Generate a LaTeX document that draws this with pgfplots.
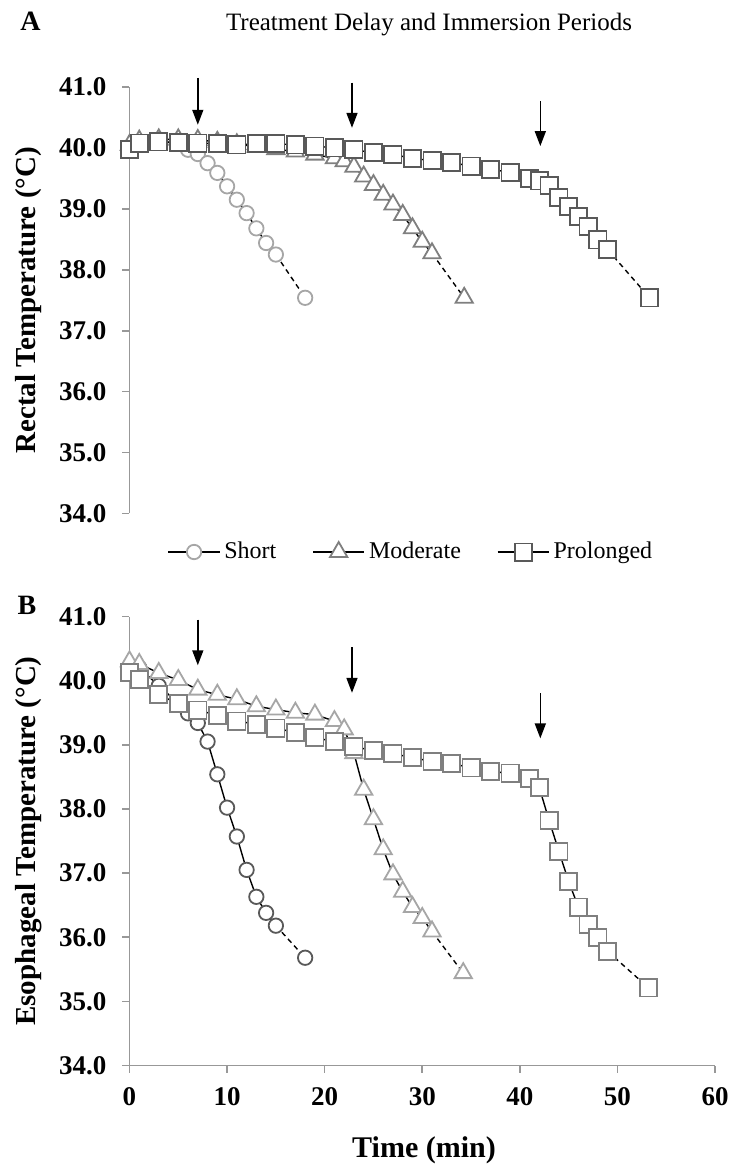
\documentclass[border=0pt]{standalone}
\usepackage{fontspec}
\setmainfont{Liberation Serif}
\usepackage{pgfplots}
\pgfplotsset{compat=1.18}
\usetikzlibrary{arrows.meta}

\definecolor{lgray}{HTML}{A6A6A6}
\definecolor{mgray}{HTML}{7F7F7F}
\definecolor{dgray}{HTML}{595959}
\definecolor{axgray}{HTML}{989898}

\tikzset{arr/.style={-{Triangle[length=7.5pt,width=5.5pt]}, line width=0.8pt, black}}

\pgfplotsset{
  panel/.style={
    scale only axis, width=292.75pt,
    xmin=0, xmax=60, ymin=34, ymax=41,
    ytick={34,35,...,41}, xtick={0,10,...,60},
    axis y line*=left,
    axis line style={axgray, line width=0.8pt, -},
    tick style={axgray, line width=0.8pt},
    tick align=outside, major tick length=3.5pt,
    clip=false,
    /pgf/number format/assume math mode=true,
    ticklabel style={font=\fontsize{13.5}{15}\selectfont\bfseries},
    yticklabel style={xshift=-4.5pt, /pgf/number format/fixed, /pgf/number format/fixed zerofill, /pgf/number format/precision=1},
    xticklabel style={yshift=-4pt},
    every axis y label/.style={at={(axis description cs:-0.173,0.5)}, rotate=90, anchor=center, font=\fontsize{14.5}{17}\selectfont\bfseries},
    every axis x label/.style={at={(axis description cs:0.503,-0.188)}, anchor=center, font=\fontsize{15}{17}\selectfont\bfseries},
    legend image code/.code={\draw[mark repeat=2,mark phase=2,#1] plot coordinates {(0cm,0cm)(0.45cm,0cm)(0.9cm,0cm)};},
  },
  sline/.style={black, line width=0.7pt, solid},
  circ/.style={sline, mark=*, mark size=3.6pt, mark options={solid, draw=#1, fill=white, line width=0.9pt}},
  tri/.style={sline, mark=triangle*, mark size=5pt, mark options={solid, draw=#1, fill=white, line width=0.9pt}},
  sq/.style={sline, mark=square*, mark size=4.3pt, mark options={solid, draw=#1, fill=white, line width=0.9pt}},
  tail/.style={black, line width=0.7pt, dash pattern=on 2.5pt off 2pt, no marks, forget plot},
}

\begin{document}
\begin{tikzpicture}
\path[use as bounding box] (-64.75pt,-50.75pt) rectangle (300.25pt,532.75pt);

% A: rectal temperature
\begin{axis}[panel, height=213.25pt, at={(0,276pt)}, anchor=south west,
  axis x line=none,
  ylabel={Rectal Temperature (°C)},
  legend style={draw=none, fill=none, at={(axis description cs:0.4825,-0.0903)}, anchor=center,
    legend columns=3, font=\fontsize{12}{14}\selectfont,
    /tikz/every even column/.append style={column sep=16pt}},
]
% Short
\addplot[tail] coordinates {(15,38.25)(18,37.54)};
\addplot[circ=lgray] coordinates {
  (0,40.00)(1,40.08)(3,40.10)(5,40.08)(6,39.97)(7,39.90)(8,39.75)(9,39.59)
  (10,39.37)(11,39.15)(12,38.93)(13,38.68)(14,38.44)(15,38.25)
};
\addlegendentry{Short}
\addplot[circ=lgray, only marks, forget plot] coordinates {(18,37.54)};
% Moderate
\addplot[tail] coordinates {(31,38.27)(34.3,37.54)};
\addplot[tri=mgray] coordinates {
  (0,40.05)(1,40.12)(3,40.14)(5,40.14)(7,40.13)(9,40.10)(11,40.06)(13,40.02)
  (15,39.98)(17,39.94)(19,39.89)(21,39.83)(22,39.78)(23,39.69)(24,39.53)
  (25,39.39)(26,39.23)(27,39.07)(28,38.90)(29,38.68)(30,38.46)(31,38.27)
};
\addlegendentry{Moderate}
\addplot[tri=mgray, only marks, forget plot] coordinates {(34.3,37.54)};
% Prolonged
\addplot[tail] coordinates {(49,38.33)(53.3,37.54)};
\addplot[sq=dgray] coordinates {
  (0,39.97)(1,40.08)(3,40.10)(5,40.09)(7,40.08)(9,40.07)(11,40.05)(13,40.07)
  (15,40.07)(17,40.05)(19,40.03)(21,40.00)(23,39.97)(25,39.92)(27,39.89)
  (29,39.83)(31,39.79)(33,39.76)(35,39.70)(37,39.65)(39,39.60)(41,39.50)
  (42,39.46)(43,39.38)(44,39.19)(45,39.04)(46,38.87)(47,38.71)(48,38.49)(49,38.33)
};
\addlegendentry{Prolonged}
\addplot[sq=dgray, only marks, forget plot] coordinates {(53.3,37.54)};
% immersion arrows
\draw[arr] (axis cs:7,41.15) -- (axis cs:7,40.38);
\draw[arr] (axis cs:22.8,41.07) -- (axis cs:22.8,40.33);
\draw[arr] (axis cs:42.1,40.77) -- (axis cs:42.1,40.03);
\end{axis}

% B: esophageal temperature
\begin{axis}[panel, height=224.5pt, at={(0,0)}, anchor=south west,
  axis x line*=bottom,
  ylabel={Esophageal Temperature (°C)},
  xlabel={Time (min)},
]
% Short
\addplot[tail] coordinates {(15,36.18)(18,35.68)};
\addplot[circ=dgray] coordinates {
  (0,40.22)(1,40.20)(3,39.92)(5,39.65)(6,39.49)(7,39.34)(8,39.05)(9,38.54)
  (10,38.02)(11,37.57)(12,37.05)(13,36.63)(14,36.38)(15,36.18)
};
\addplot[circ=dgray, only marks] coordinates {(18,35.68)};
% Moderate
\addplot[tail] coordinates {(31,36.09)(34.2,35.44)};
\addplot[tri=lgray] coordinates {
  (0,40.30)(1,40.26)(3,40.12)(5,40.01)(7,39.86)(9,39.78)(11,39.71)(13,39.60)
  (15,39.55)(17,39.50)(19,39.47)(21,39.37)(22,39.24)(23,38.87)(24,38.30)
  (25,37.84)(26,37.37)(27,36.98)(28,36.71)(29,36.47)(30,36.30)(31,36.09)
};
\addplot[tri=lgray, only marks] coordinates {(34.2,35.44)};
% Prolonged
\addplot[tail] coordinates {(49,35.78)(53.2,35.21)};
\addplot[sq=mgray] coordinates {
  (0,40.13)(1,40.02)(3,39.78)(5,39.64)(7,39.54)(9,39.46)(11,39.37)(13,39.32)
  (15,39.26)(17,39.19)(19,39.11)(21,39.05)(23,38.97)(25,38.91)(27,38.86)
  (29,38.80)(31,38.74)(33,38.71)(35,38.64)(37,38.58)(39,38.56)(41,38.47)
  (42,38.33)(43,37.82)(44,37.34)(45,36.87)(46,36.47)(47,36.20)(48,36.00)(49,35.78)
};
\addplot[sq=mgray, only marks] coordinates {(53.2,35.21)};
% immersion arrows
\draw[arr] (axis cs:7,40.95) -- (axis cs:7,40.24);
\draw[arr] (axis cs:22.8,40.52) -- (axis cs:22.8,39.81);
\draw[arr] (axis cs:42.1,39.80) -- (axis cs:42.1,39.10);
\end{axis}

\node[font=\fontsize{12.5}{14}\selectfont] at (149.75pt,520.25pt) {Treatment Delay and Immersion Periods};
\node[font=\fontsize{14}{16}\selectfont\bfseries] at (-49.5pt,522pt) {A};
\node[font=\fontsize{14}{16}\selectfont\bfseries] at (-51.25pt,230.25pt) {B};
\end{tikzpicture}
\end{document}
